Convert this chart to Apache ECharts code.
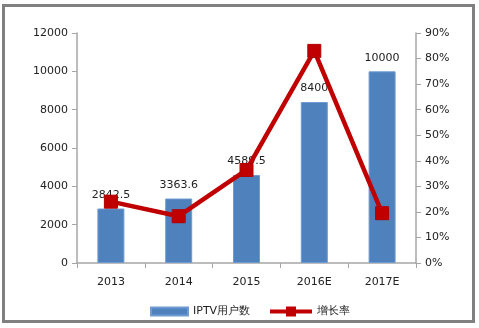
<!DOCTYPE html>
<html><head><meta charset="utf-8">
<script src="https://cdn.jsdelivr.net/npm/echarts@6/dist/echarts.min.js"></script>
<style>html,body{margin:0;padding:0;background:#fff}#c{width:479px;height:328px}</style>
</head><body><div id="c"></div>
<script>
const categories = ['2013','2014','2015','2016E','2017E'];
const users = [2842.5, 3363.6, 4589.5, 8400, 10000];
const growth = [24, 18.3, 36.4, 83, 19.5];

const chart = echarts.init(document.getElementById('c'));
const font = 'DejaVu Sans';
const legendText = {fontSize: 11, color: '#222', fontFamily: font};
chart.setOption({
  animation: false,
  textStyle: {fontFamily: font},
  graphic: [{
    type: 'rect', shape: {x: 3.5, y: 5.5, width: 470, height: 316},
    style: {fill: 'none', stroke: '#808080', lineWidth: 3}, z: 100
  }],
  grid: {left: 77, right: 63, top: 33, bottom: 65},
  legend: [{
    left: 145, top: 301, itemGap: 5,
    itemWidth: 37, itemHeight: 8,
    textStyle: legendText,
    data: [{name: 'IPTV用户数', icon: 'rect'}]
  }, {
    left: 265, top: 301, itemGap: 4,
    itemWidth: 42, itemHeight: 10,
    textStyle: legendText,
    itemStyle: {borderWidth: 0},
    data: [{name: '增长率', icon: 'path://M0,3 L16,3 L16,0 L26,0 L26,3 L42,3 L42,7 L26,7 L26,10 L16,10 L16,7 L0,7 Z'}]
  }],
  xAxis: {
    type: 'category', data: categories,
    axisLine: {lineStyle: {color: '#A6A6A6', width: 1.5}},
    axisTick: {show: true, length: 5, lineStyle: {color: '#A6A6A6'}},
    axisLabel: {fontSize: 11, color: '#222', margin: 14}
  },
  yAxis: [{
    type: 'value', min: 0, max: 12000, interval: 2000,
    axisLine: {show: true, lineStyle: {color: '#A6A6A6', width: 1.5}},
    axisTick: {show: true, length: 5, lineStyle: {color: '#A6A6A6'}},
    splitLine: {show: false},
    axisLabel: {fontSize: 11, color: '#222', margin: 9, formatter: v => String(v)}
  }, {
    type: 'value', min: 0, max: 90, interval: 10, position: 'right',
    axisLine: {show: true, lineStyle: {color: '#A6A6A6', width: 1.5}},
    axisTick: {show: true, length: 5, lineStyle: {color: '#A6A6A6'}},
    splitLine: {show: false},
    axisLabel: {fontSize: 11, color: '#222', margin: 9, formatter: '{value}%'}
  }],
  series: [{
    name: 'IPTV用户数', type: 'bar', data: users, barWidth: 27,
    itemStyle: {color: '#4F81BD', borderColor: '#6F9BD1', borderWidth: 1},
    label: {show: true, position: 'top', fontSize: 11, color: '#222', distance: 8}
  }, {
    name: '增长率', type: 'line', yAxisIndex: 1, data: growth,
    lineStyle: {color: '#C00000', width: 4.5},
    itemStyle: {color: '#C00000', borderColor: '#B00000', borderWidth: 1},
    symbol: 'rect', symbolSize: 13, z: 3
  }]
});
</script></body></html>
